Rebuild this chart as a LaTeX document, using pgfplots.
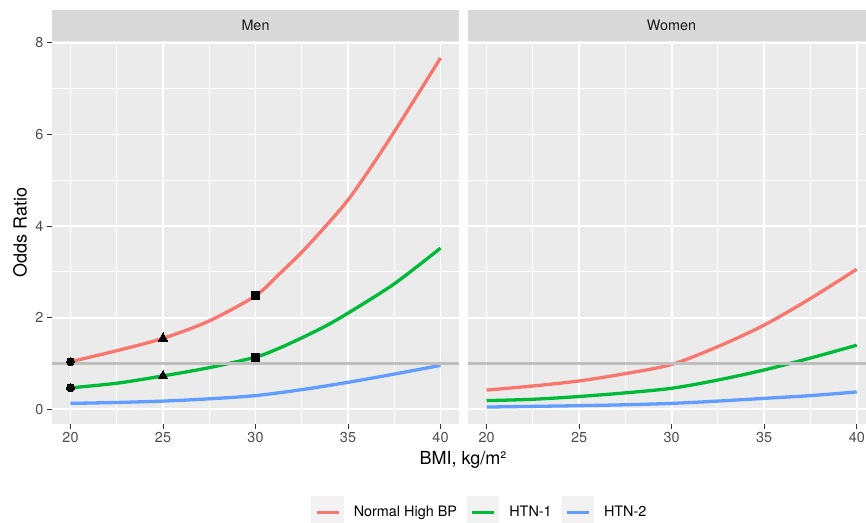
\documentclass[border=0pt]{standalone}
\usepackage{pgfplots}
\pgfplotsset{compat=1.18}
\usepackage{fontspec}
\setmainfont{TeX Gyre Heros}
\definecolor{cRed}{HTML}{F8766D}
\definecolor{cGreen}{HTML}{00BA38}
\definecolor{cBlue}{HTML}{619CFF}
\definecolor{panel}{HTML}{EBEBEB}
\definecolor{strip}{HTML}{D9D9D9}
\definecolor{hl}{HTML}{BEBEBE}
\definecolor{grey20}{HTML}{333333}
\definecolor{grey30}{HTML}{4D4D4D}
\definecolor{grey10}{HTML}{1A1A1A}
\definecolor{keybg}{HTML}{F2F2F2}
\newcommand{\smallf}{\fontsize{14.4}{17}\selectfont}
\newcommand{\bigf}{\fontsize{18}{21}\selectfont}
\pgfplotsset{ggbase/.style={
  scale only axis, height=383pt,
  xmin=19, ymin=-0.32, ymax=8.04,
  axis background/.style={fill=panel},
  axis line style={draw=none},
  grid=both,
  major grid style={white, line width=1.8pt},
  minor grid style={white, line width=0.9pt},
  xtick={20,25,30,35,40}, minor xtick={22.5,27.5,32.5,37.5},
  ytick={0,2,4,6,8}, minor ytick={1,3,5,7},
  tick align=outside, major tick length=5pt, minor tick length=0pt,
  tick pos=left,
  xtick style={grey20, line width=1pt},
  tick label style={font=\smallf, text=grey30},
  /pgf/number format/assume math mode=true,
  every axis plot/.append style={line width=3.3pt},
}}
\begin{document}
\begin{tikzpicture}
\path[use as bounding box] (0pt,0pt) rectangle (866pt,-522pt);
% strips
\fill[strip] (52pt,-40.5pt) rectangle (459pt,-10pt);
\node[font=\smallf, text=grey10] at (255.5pt,-25.25pt) {Men};
\fill[strip] (468pt,-40.5pt) rectangle (866pt,-10pt);
\node[font=\smallf, text=grey10] at (671.5pt,-25.25pt) {Women};
% Men
\begin{axis}[ggbase, at={(52pt,-424pt)}, anchor=south west, width=407pt, xmax=41,
  ytick style={grey20, line width=1pt},
  ylabel={Odds Ratio}, ylabel style={font=\bigf, at={(axis description cs:-0.0786,0.5)}, anchor=center},
  xlabel={BMI, kg/m²}, xlabel style={font=\bigf, at={(axis description cs:1.0098,-0.107)}, anchor=base},
  legend columns=3,
  legend style={at={(axis description cs:1.049,-0.231)}, anchor=center, draw=none, fill=none,
    font=\smallf, inner sep=0pt, nodes={inner sep=0pt},
    /tikz/every odd column/.append style={column sep=10pt},
    /tikz/every even column/.append style={column sep=10pt}},
  legend image code/.code={\fill[keybg] (0pt,-14.5pt) rectangle (29pt,14.5pt);
    \draw[#1, line width=3.5pt] (3.5pt,0pt) -- (25.5pt,0pt);},
]
\addplot[cRed, smooth] coordinates {(20,1.04) (22.5,1.28) (25,1.55) (27.5,1.93) (30,2.48) (31.25,2.94) (32.5,3.43) (33.75,3.98) (35,4.57) (36.25,5.29) (37.5,6.06) (38.75,6.86) (40,7.67)};
\addlegendentry{Normal High BP}
\addplot[cGreen, smooth] coordinates {(20,0.47) (22.5,0.57) (25,0.73) (27.5,0.91) (30,1.14) (31.25,1.33) (32.5,1.56) (33.75,1.81) (35,2.10) (37.5,2.74) (40,3.52)};
\addlegendentry{HTN-1}
\addplot[cBlue, smooth] coordinates {(20,0.13) (22.5,0.15) (25,0.18) (27.5,0.23) (30,0.30) (32.5,0.43) (35,0.59) (37.5,0.77) (40,0.96)};
\addlegendentry{HTN-2}
\addplot[hl, line width=3.5pt, forget plot] coordinates {(19,1) (41,1)};
\addplot[only marks, mark=*, black, mark size=4pt, line width=0pt, forget plot] coordinates {(20,1.04) (20,0.47)};
\addplot[only marks, mark=triangle*, black, mark size=5.5pt, line width=0pt, forget plot] coordinates {(25,1.55) (25,0.73)};
\addplot[only marks, mark=square*, black, mark size=4pt, line width=0pt, forget plot] coordinates {(30,2.48) (30,1.14)};
\end{axis}
% Women
\begin{axis}[ggbase, at={(468pt,-424pt)}, anchor=south west, width=398pt, xmax=40.5,
  yticklabels={}, ytick style={draw=none}]
\addplot[cRed, smooth] coordinates {(20,0.42) (22.5,0.51) (25,0.62) (27.5,0.78) (30,0.98) (32.5,1.37) (35,1.84) (37.5,2.42) (40,3.06)};
\addplot[cGreen, smooth] coordinates {(20,0.19) (22.5,0.22) (25,0.28) (27.5,0.36) (30,0.46) (32.5,0.64) (35,0.86) (37.5,1.12) (40,1.40)};
\addplot[cBlue, smooth] coordinates {(20,0.05) (22.5,0.065) (25,0.08) (27.5,0.10) (30,0.13) (32.5,0.18) (35,0.24) (37.5,0.30) (40,0.38)};
\addplot[hl, line width=3.5pt] coordinates {(19,1) (41,1)};
\end{axis}
\end{tikzpicture}
\end{document}
